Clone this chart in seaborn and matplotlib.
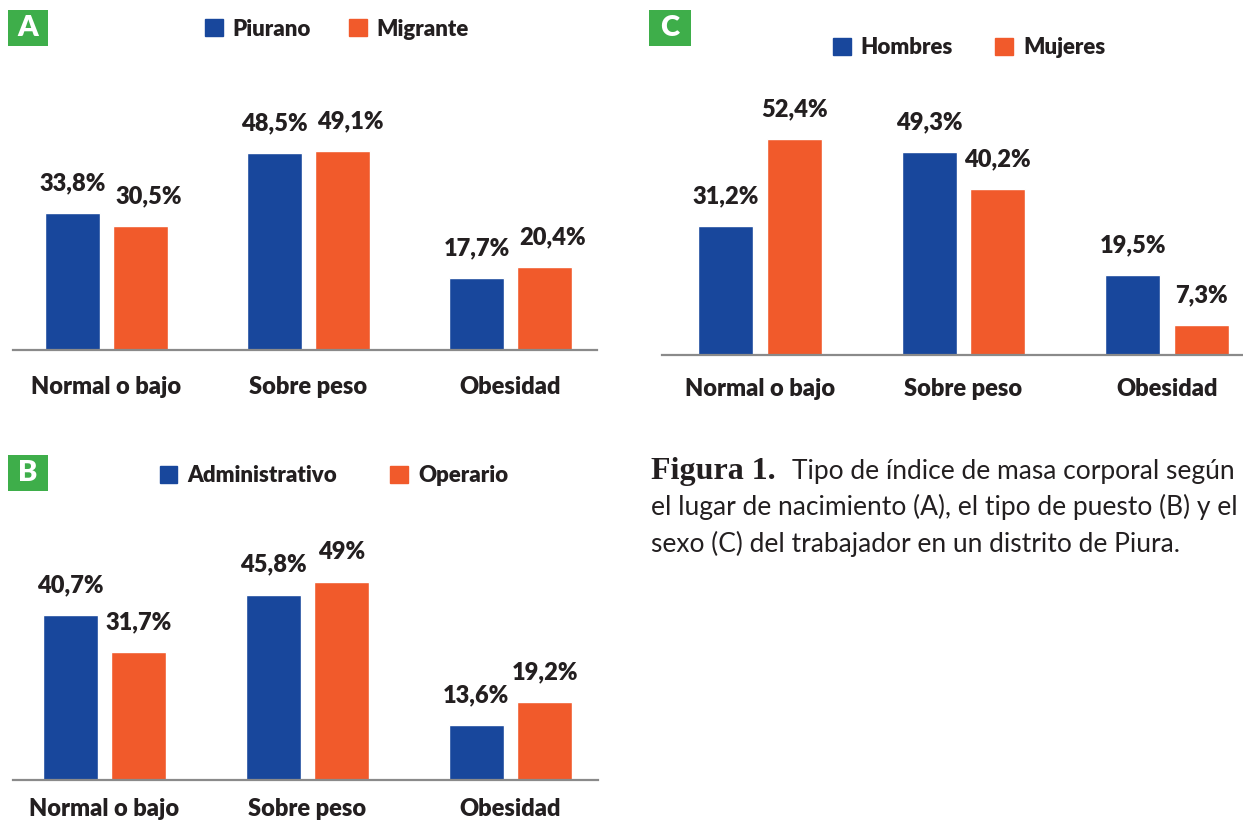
import matplotlib
matplotlib.use("Agg")
import matplotlib.pyplot as plt
from matplotlib.patches import Rectangle, Patch
import seaborn as sns
import pandas as pd

sns.set_theme(style="white")
plt.rcParams['font.family'] = ['Lato', 'DejaVu Sans']

# ---------------- data ----------------
categories = ["Normal o bajo", "Sobre peso", "Obesidad"]

a_series = ["Piurano", "Migrante"]
a_piurano = [33.8, 48.5, 17.7]
a_migrante = [30.5, 49.1, 20.4]

b_series = ["Administrativo", "Operario"]
b_admin = [40.7, 45.8, 13.6]
b_operario = [31.7, 49.0, 19.2]

c_series = ["Hombres", "Mujeres"]
c_hombres = [31.2, 49.3, 19.5]
c_mujeres = [52.4, 40.2, 7.3]

caption_bold = "Figura 1."
caption_lines = ["Tipo de índice de masa corporal según",
                 "el lugar de nacimiento (A), el tipo de puesto (B) y el",
                 "sexo (C) del trabajador en un distrito de Piura."]

BLUE = "#18479c"
ORANGE = "#f15a2b"
GREEN = "#3eae4a"
TXT = "#231f20"
GRAY = "#8a8a8a"
WEIGHT = "heavy"

W, H = 1243, 823
fig = plt.figure(figsize=(W / 100, H / 100), dpi=100)
fig.patch.set_facecolor("white")


def add_ax(l, t, r, b):
    return fig.add_axes([l / W, 1 - b / H, (r - l) / W, (b - t) / H])


def fmt(v):
    return f"{v:g}".replace(".", ",") + "%"


def panel(l, t, r, b, centers, scale, series, v1, v2, letter, box, leg_xy,
          colspace, tickpad, shift2=0.0):
    ax = add_ax(l, t, r, b)
    df = pd.DataFrame({
        "cat": categories * 2,
        "grp": [series[0]] * 3 + [series[1]] * 3,
        "val": list(v1) + list(v2),
    })
    sns.barplot(data=df, x="cat", y="val", hue="grp", order=categories,
                hue_order=series, palette=[BLUE, ORANGE], width=0.672,
                gap=0.2, saturation=1, legend=False, ax=ax, errorbar=None)
    sp = (centers[1] - centers[0])
    ax.set_xlim((l - centers[0]) / sp, (r - centers[0]) / sp)
    ax.set_ylim(0, (b - t) / scale)
    for i, c in enumerate(ax.containers):
        anns = ax.bar_label(c, labels=[fmt(v) for v in c.datavalues], padding=13.5,
                            fontsize=17, fontweight=WEIGHT, color=TXT)
        if i == 1 and shift2:
            for a in anns:
                x0, y0 = a.xyann
                a.xyann = (x0 + shift2, y0)
    for s in ["top", "left", "right"]:
        ax.spines[s].set_visible(False)
    ax.spines["bottom"].set_color(GRAY)
    ax.spines["bottom"].set_linewidth(1.6)
    ax.set_yticks([])
    ax.set_xlabel("")
    ax.set_ylabel("")
    ax.tick_params(axis="x", length=0, pad=tickpad, labelsize=17, labelcolor=TXT)
    for tl in ax.get_xticklabels():
        tl.set_fontweight(WEIGHT)
    ax.patch.set_alpha(0)
    # panel letter
    bx0, by0, bx1, by1 = box
    fig.add_artist(Rectangle((bx0 / W, 1 - by1 / H), (bx1 - bx0) / W, (by1 - by0) / H,
                             transform=fig.transFigure, color=GREEN, lw=0))
    fig.text((bx0 + bx1) / 2 / W, 1 - (by0 + by1) / 2 / H, letter, color="white",
             fontsize=21, fontweight=WEIGHT, ha="center", va="center")
    handles = [Patch(color=BLUE), Patch(color=ORANGE)]
    fig.legend(handles, series, loc="center",
               bbox_to_anchor=(leg_xy[0] / W, 1 - leg_xy[1] / H), ncol=2,
               frameon=False, handlelength=0.8, handleheight=0.8,
               handletextpad=0.45, columnspacing=colspace,
               prop={"weight": WEIGHT, "size": 16}, labelcolor=TXT)
    return ax


panel(13, 50, 597, 350, [106.5, 308.5, 511.5], 4.06, a_series, a_piurano, a_migrante,
      "A", (8, 10, 48, 46), (337, 29), 1.7, 18.5, shift2=6)
panel(13, 470, 598, 780, [104.5, 307.5, 509.5], 4.05, b_series, b_admin, b_operario,
      "B", (8, 455, 48, 491), (334, 476), 2.4, 13)
panel(662, 60, 1243, 355, [760, 963.5, 1165], 4.12, c_series, c_hombres, c_mujeres,
      "C", (649, 10, 691, 46), (969, 48), 1.9, 16.5)

# caption
fig.text(651 / W, 1 - 479 / H, caption_bold, family="Liberation Serif",
         fontweight="bold", fontsize=23, color=TXT, va="baseline", ha="left")
fig.text(792 / W, 1 - 479 / H, caption_lines[0], fontsize=19, color=TXT,
         va="baseline", ha="left")
fig.text(651 / W, 1 - 515 / H, caption_lines[1], fontsize=19, color=TXT,
         va="baseline", ha="left")
fig.text(651 / W, 1 - 552 / H, caption_lines[2], fontsize=19, color=TXT,
         va="baseline", ha="left")

fig.savefig("out.png", dpi=100)
